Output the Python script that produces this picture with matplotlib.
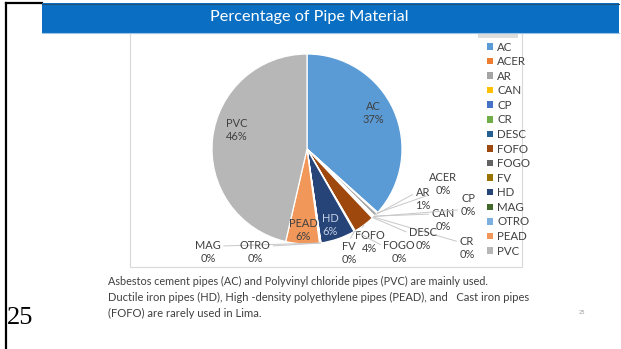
import matplotlib
matplotlib.use('Agg')
import matplotlib.pyplot as plt
import numpy as np
from matplotlib.patches import Rectangle
from matplotlib.lines import Line2D

# ---------------- data ----------------
materials = ['AC', 'ACER', 'AR', 'CAN', 'CP', 'CR', 'DESC', 'FOFO', 'FOGO',
             'FV', 'HD', 'MAG', 'OTRO', 'PEAD', 'PVC']
shares = [36.6, 0.2, 0.6, 0.1, 0.1, 0.1, 0.2, 3.6, 0.1,
          0.1, 5.9, 0.05, 0.2, 5.7, 46.35]
colors = ['#5B9BD5', '#ED7D31', '#A5A5A5', '#FFC000', '#4472C4', '#70AD47',
          '#255E91', '#9E480E', '#636363', '#997300', '#264478', '#43682B',
          '#7CAFDD', '#F1975A', '#B7B7B7']
title = 'Percentage of Pipe Material'
caption = ['Asbestos cement pipes (AC) and Polyvinyl chloride pipes (PVC) are mainly used.',
           'Ductile iron pipes (HD), High -density polyethylene pipes (PEAD), and   Cast iron pipes',
           '(FOFO) are rarely used in Lima.']
slide_number = '25'

# ---------------- layout (pixels) ----------------
W, H = 621, 349
plt.rcParams['font.family'] = ['Lato', 'DejaVu Sans']
fig = plt.figure(figsize=(W / 100, H / 100), dpi=100)
fig.patch.set_facecolor('white')
renderer = fig.canvas.get_renderer()


def fx(px):
    return px / W


def fy(py):
    return 1 - py / H


def fit_text(x, y, s, target_w, size0, **kw):
    t = fig.text(x, y, s, fontsize=size0, **kw)
    w = t.get_window_extent(renderer).width
    t.set_fontsize(size0 * target_w / w)
    return t


# slide frame
fig.add_artist(Line2D([fx(6), fx(6)], [fy(3), fy(349)], color='black', lw=1.6))
fig.add_artist(Line2D([fx(6), fx(42)], [fy(3), fy(3)], color='black', lw=1.6))

# title bar
fig.add_artist(Rectangle((fx(42), fy(33)), (619 - 42) / W, 30 / H,
                         transform=fig.transFigure, facecolor='#0A6FC2',
                         edgecolor='none', zorder=3))
fig.add_artist(Line2D([fx(42), fx(619)], [fy(3.5), fy(3.5)], color='#1F4E79', lw=0.8, zorder=4))
fig.add_artist(Line2D([fx(42), fx(619)], [fy(33), fy(33)], color='#9DC3E6', lw=0.8, zorder=4))
fit_text(fx(309), fy(17), title, 198, 12, color='white', ha='center', va='center', zorder=5)

# chart area border
fig.add_artist(Rectangle((fx(130), fy(267)), (522 - 130) / W, (267 - 33) / H,
                         transform=fig.transFigure, facecolor='none',
                         edgecolor='#D9D9D9', lw=0.8, zorder=1))
fig.add_artist(Rectangle((fx(478), fy(38)), 40 / W, 5 / H, transform=fig.transFigure,
                         facecolor='#DDDDDD', edgecolor='none', zorder=2))

# pie
cx, cy, R = 307, 149, 95
ax = fig.add_axes([fx(cx - R), fy(cy + R), 2 * R / W, 2 * R / H])
wedges, _ = ax.pie(shares, colors=colors, startangle=90, counterclock=False,
                   radius=1, wedgeprops=dict(edgecolor='white', linewidth=0.9))
ax.set_xlim(-1, 1)
ax.set_ylim(-1, 1)
ax.set_aspect('auto')
ax.axis('off')

total = float(sum(shares))
pct = [f'{round(s / total * 100):.0f}%' for s in shares]

# label positions (pixel centers) and leader-line attach points
inside = {'AC': (373, 113), 'PVC': (237, 130), 'PEAD': (303, 230), 'HD': (330, 225)}
outside = {'ACER': ((443, 184), (0.15, 0.1)), 'AR': ((423, 199), (0, 0.75)),
           'CAN': ((443, 220), (0, 0.75)), 'CP': ((468, 205), (0, 0.3)),
           'CR': ((467, 248), (0, 0.75)), 'DESC': ((423, 239), (0, 0.75)),
           'FOFO': ((370, 242), (0, 0.75)), 'FOGO': ((399, 252), (0, 0.75)),
           'FV': ((349, 253), (0.5, 1)), 'MAG': ((208, 252), (1, 0.75)),
           'OTRO': ((255, 252), (1, 0.75))}
lab_color = '#404040'
lab_size = 7.9
for w, name, p in zip(wedges, materials, pct):
    text = f'{name}\n{p}'
    col = '#C5D0E6' if name == 'HD' else lab_color
    if name in inside:
        px, py = inside[name]
        ax.annotate(text, xy=(0, 0), xytext=(px, H - py), textcoords='figure pixels',
                    ha='center', va='center', fontsize=lab_size, color=col,
                    linespacing=1.2)
    else:
        (px, py), rel = outside[name]
        th = np.deg2rad((w.theta1 + w.theta2) / 2)
        ax.annotate(text, xy=(np.cos(th), np.sin(th)), xycoords='data',
                    xytext=(px, H - py), textcoords='figure pixels',
                    ha='center', va='center', fontsize=lab_size, color=col,
                    linespacing=1.2, annotation_clip=False,
                    arrowprops=dict(arrowstyle='-', color='#C8C8C8', lw=0.7,
                                    relpos=rel, shrinkA=0, shrinkB=0))

# legend
leg = fig.legend(wedges, materials, loc='upper left',
                 bbox_to_anchor=(fx(479), fy(33.5)), frameon=False,
                 fontsize=8.3, handlelength=0.5, handleheight=0.5,
                 handletextpad=0.4, labelspacing=0.31, borderpad=0.2,
                 labelcolor=lab_color)
for h in leg.legend_handles:
    h.set_edgecolor('none')

# caption
for i, (line, wpx) in enumerate(zip(caption, [381, 424, 154])):
    fit_text(fx(108), fy(281 + 16 * i), line, wpx, 8, color='#404040',
             ha='left', va='center')

fig.text(fx(7), fy(318), slide_number, fontsize=19, family='Liberation Serif',
         color='black', ha='left', va='center')
fig.text(fx(582), fy(312), slide_number, fontsize=4, color='#999999',
         ha='center', va='center')

fig.savefig('out.png', dpi=100, facecolor='white')
